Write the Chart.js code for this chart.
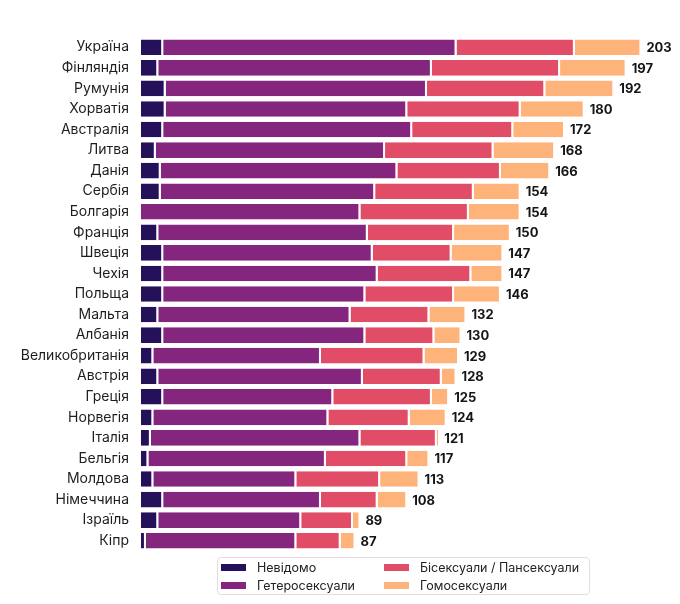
<!DOCTYPE html>
<html lang="uk">
<head>
<meta charset="utf-8">
<script src="https://cdn.jsdelivr.net/npm/chart.js@4"></script>
<style>
	body { margin: 0; background: #fff; font-family: Inter, "Noto Sans", sans-serif; }
	#wrap { position: relative; width: 680px; height: 604px; }
	#legend {
		position: absolute; left: 217px; top: 557px; width: 373px; height: 38px;
		border: 1px solid #e6d9e3; border-radius: 4px; box-sizing: border-box;
		display: grid; grid-template-columns: 163px 205px; grid-auto-flow: column; grid-template-rows: 18px 18px;
		padding: 0 0 0 3px; font-size: 12.5px; color: #222; align-content: center;
	}
	.item { display: flex; align-items: center; white-space: nowrap; }
	.sw { width: 25px; height: 7px; margin-right: 11px; flex: none; }
</style>
</head>
<body>
<div id="wrap">
	<canvas id="chart" width="680" height="604"></canvas>
	<div id="legend"></div>
</div>
<script>
const countries = ["Україна", "Фінляндія", "Румунія", "Хорватія", "Австралія", "Литва", "Данія", "Сербія", "Болгарія", "Франція", "Швеція", "Чехія", "Польща", "Мальта", "Албанія", "Великобританія", "Австрія", "Греція", "Норвегія", "Італія", "Бельгія", "Молдова", "Німеччина", "Ізраїль", "Кіпр"];
const unknown = [9, 7, 10, 10, 9, 6, 8, 8, 0, 7, 9, 9, 9, 7, 9, 5, 7, 9, 5, 4, 3, 5, 9, 7, 2];
const hetero = [119, 111, 106, 98, 101, 93, 96, 87, 89, 85, 85, 87, 82, 78, 82, 68, 83, 69, 71, 85, 72, 58, 64, 58, 61];
const bipan = [48, 52, 48, 46, 41, 44, 42, 40, 44, 35, 32, 38, 36, 32, 28, 42, 32, 40, 33, 31, 33, 34, 23, 21, 18];
const homo = [27, 27, 28, 26, 21, 25, 20, 19, 21, 23, 21, 13, 19, 15, 11, 14, 6, 7, 15, 1, 9, 16, 12, 3, 6];
const totals = [203, 197, 192, 180, 172, 168, 166, 154, 154, 150, 147, 147, 146, 132, 130, 129, 128, 125, 124, 121, 117, 113, 108, 89, 87];

const seriesNames = ["Невідомо", "Гетеросексуали", "Бісексуали / Пансексуали", "Гомосексуали"];
const seriesColors = ["#25105a", "#85267e", "#e14c66", "#feb37b"];
const seriesData = [unknown, hetero, bipan, homo];

const totalLabels = {
	id: "totalLabels",
	afterDatasetsDraw(chart) {
		const ctx = chart.ctx;
		const y = chart.scales.y;
		const x = chart.scales.x;
		ctx.save();
		ctx.font = "bold 13px Inter, sans-serif";
		ctx.fillStyle = "#161616";
		ctx.textBaseline = "middle";
		totals.forEach((t, i) => {
			ctx.fillText(t, x.getPixelForValue(t) + 5, y.getPixelForValue(i) + 1);
		});
		ctx.restore();
	}
};

const chart = new Chart(document.getElementById("chart"), {
	type: "bar",
	data: {
		labels: countries,
		datasets: seriesData.map((d, i) => ({
			label: seriesNames[i],
			data: d,
			backgroundColor: seriesColors[i],
			borderColor: "#fff",
			borderWidth: { left: 0, right: 2, top: 0, bottom: 0 },
			borderSkipped: false,
			categoryPercentage: 1,
			barPercentage: 0.76
		}))
	},
	options: {
		indexAxis: "y",
		responsive: false,
		animation: false,
		layout: { padding: { top: 37, bottom: 53, right: 9, left: 0 } },
		plugins: { legend: { display: false }, tooltip: { enabled: false } },
		scales: {
			x: { stacked: true, min: 0, max: 215, display: false },
			y: {
				stacked: true,
				grid: { display: false, drawTicks: false },
				border: { display: false },
				ticks: { color: "#1e1e1e", padding: 12, font: { family: "Inter", size: 14 } },
				afterFit: (scale) => { scale.width = 141; }
			}
		}
	},
	plugins: [totalLabels]
});

// legend in two columns, same order as the original
document.getElementById("legend").innerHTML = chart.data.datasets
	.map((ds) => `<div class="item"><span class="sw" style="background:${ds.backgroundColor}"></span>${ds.label}</div>`)
	.join("");
</script>
</body>
</html>
